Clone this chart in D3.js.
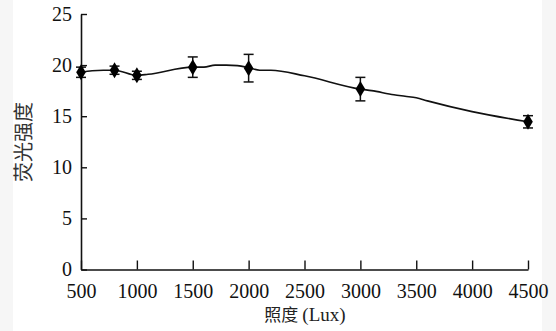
<!DOCTYPE html>
<html>
<head>
<meta charset="utf-8">
<script src="https://cdn.jsdelivr.net/npm/d3@7"></script>
<style>
  html, body { margin: 0; padding: 0; background: #f6f6f6; }
  svg { display: block; }
</style>
</head>
<body>
<svg id="chart" width="556" height="331"></svg>
<script>
// Measured means (markers) with standard deviations
const markerLux = [500, 800, 1000, 1500, 2000, 3000, 4500];
const markerMean = [19.3, 19.5, 19.0, 19.8, 19.7, 17.65, 14.45];
const markerSd = [0.5, 0.4, 0.4, 1.0, 1.35, 1.15, 0.6];

// Fitted response curve
const curveLux = [500, 600, 700, 800, 1000, 1100, 1500, 1600, 1700, 1800, 1900, 2000, 2100, 2200, 2500, 3000, 3100, 3300, 3400, 3500, 3600, 4000, 4500];
const curveVal = [19.3, 19.45, 19.5, 19.5, 19.0, 19.1, 19.8, 19.8, 20.0, 20.0, 19.95, 19.75, 19.5, 19.5, 18.95, 17.65, 17.5, 17.1, 16.95, 16.8, 16.5, 15.45, 14.45];

const xTicks = [500, 1000, 1500, 2000, 2500, 3000, 3500, 4000, 4500];
const yTicks = [0, 5, 10, 15, 20, 25];

const svg = d3.select("#chart");

// paper area
svg.append("rect").attr("x", 13).attr("y", 0).attr("width", 529).attr("height", 331).attr("fill", "#ffffff");

const x = d3.scaleLinear().domain([500, 4500]).range([81, 528]);
const y = d3.scaleLinear().domain([0, 25]).range([269.5, 14]);

const serif = "'Liberation Serif', 'Times New Roman', serif";
const cjk = "'Noto Sans CJK SC', 'Noto Sans CJK JP', sans-serif";

// x axis (ticks point inward)
const xAxis = svg.append("g")
  .attr("transform", `translate(0,${y(0)})`)
  .call(d3.axisBottom(x).tickValues(xTicks).tickSizeInner(-9).tickSizeOuter(0).tickPadding(14).tickFormat(d3.format("d")));
xAxis.select(".domain").attr("stroke", "#111").attr("stroke-width", 1.6);
xAxis.selectAll(".tick line").attr("stroke", "#111").attr("stroke-width", 1.4);
xAxis.selectAll(".tick text").attr("font-family", serif).attr("font-size", 20).attr("fill", "#111");

// y axis (ticks point inward)
const yAxis = svg.append("g")
  .attr("transform", `translate(${x(500)},0)`)
  .call(d3.axisLeft(y).tickValues(yTicks).tickSizeInner(-6).tickSizeOuter(0).tickPadding(9));
yAxis.select(".domain").attr("stroke", "#111").attr("stroke-width", 1.6);
yAxis.selectAll(".tick line").attr("stroke", "#111").attr("stroke-width", 1.4);
yAxis.selectAll(".tick text").attr("font-family", serif).attr("font-size", 20).attr("fill", "#111");

// curve
const line = d3.line().x((d, i) => x(curveLux[i])).y(d => y(d)).curve(d3.curveMonotoneX);
svg.append("path")
  .datum(curveVal)
  .attr("d", line)
  .attr("fill", "none")
  .attr("stroke", "#111")
  .attr("stroke-width", 1.6);

// error bars
const pts = markerLux.map((v, i) => ({ lux: v, m: markerMean[i], sd: markerSd[i] }));
const eb = svg.append("g").attr("stroke", "#111").attr("stroke-width", 1.5);
pts.forEach(p => {
  const cx = x(p.lux), top = y(p.m + p.sd), bot = y(p.m - p.sd);
  eb.append("line").attr("x1", cx).attr("x2", cx).attr("y1", top).attr("y2", bot);
  eb.append("line").attr("x1", cx - 5).attr("x2", cx + 5).attr("y1", top).attr("y2", top);
  eb.append("line").attr("x1", cx - 5).attr("x2", cx + 5).attr("y1", bot).attr("y2", bot);
});

// diamond markers
svg.append("g").selectAll("path")
  .data(pts)
  .join("path")
  .attr("transform", d => `translate(${x(d.lux)},${y(d.m)})`)
  .attr("d", "M0,-8L4.8,0L0,8L-4.8,0Z")
  .attr("fill", "#000");

// axis titles
const xt = svg.append("text")
  .attr("x", 305).attr("y", 321)
  .attr("text-anchor", "middle")
  .attr("fill", "#222");
xt.append("tspan").attr("font-family", cjk).attr("font-size", 17).text("照度");
xt.append("tspan").attr("font-family", serif).attr("font-size", 19).attr("dx", 4).text("(Lux)");

svg.append("text")
  .attr("transform", "translate(31,142) rotate(-90)")
  .attr("text-anchor", "middle")
  .attr("font-family", cjk).attr("font-size", 20).attr("fill", "#333")
  .text("荧光强度");
</script>
</body>
</html>
